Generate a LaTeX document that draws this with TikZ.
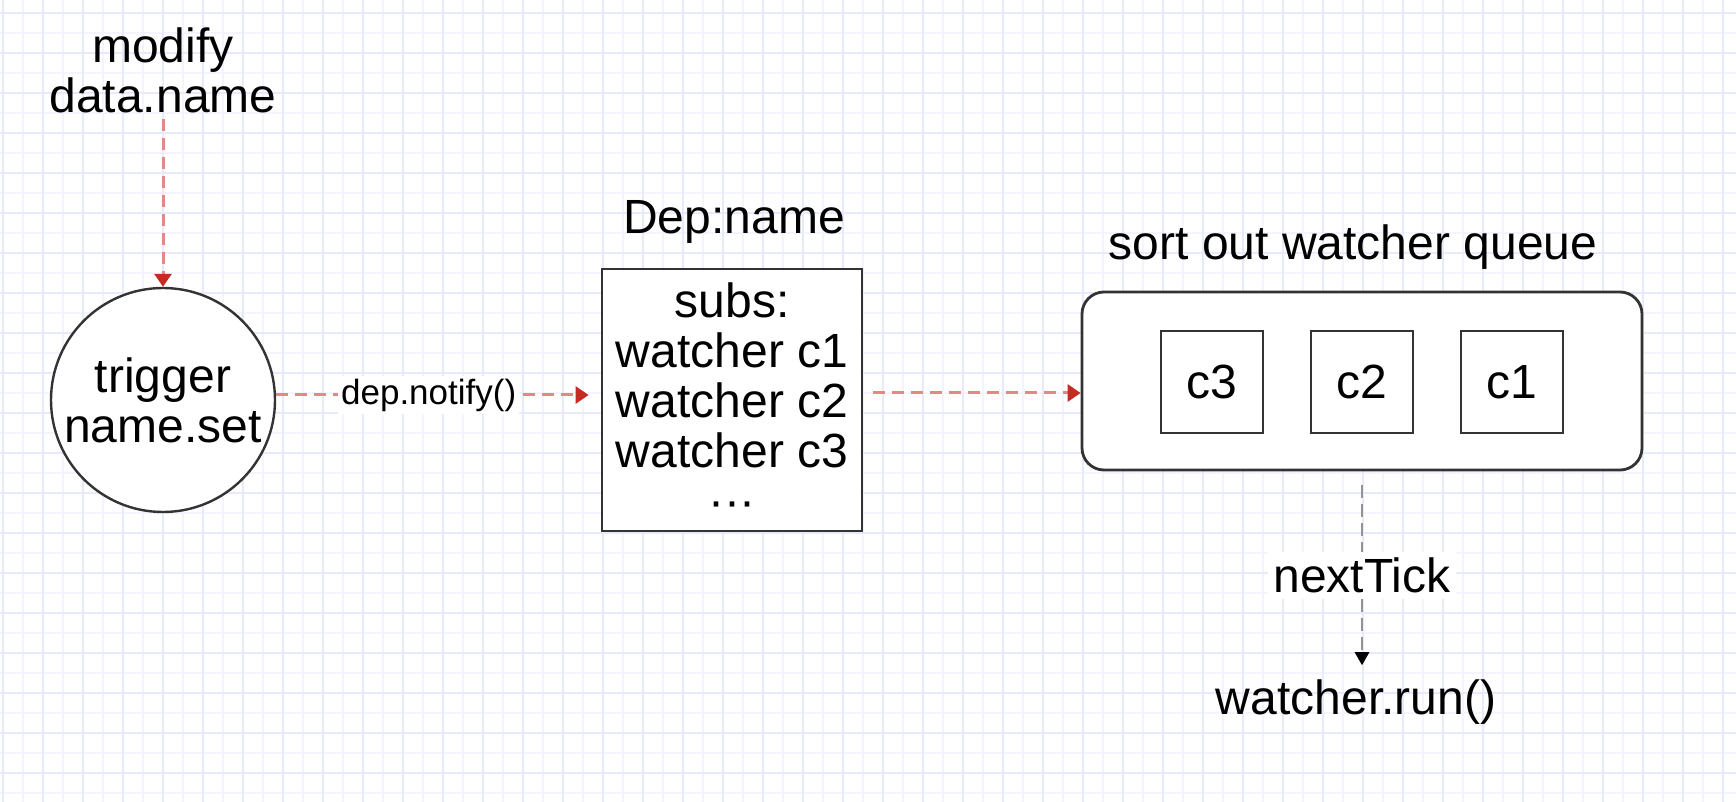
\documentclass[tikz,border=0pt]{standalone}
\usepackage{fontspec}
\setmainfont{Liberation Sans}
\usepackage{tikz}
\usetikzlibrary{positioning,arrows.meta}
\usepackage{xcolor}

\definecolor{gridstrong}{HTML}{E8EAFC}
\definecolor{gridfaint}{HTML}{F3F4FE}
\definecolor{flowred}{HTML}{C42B22}
\definecolor{flowpink}{HTML}{E08A86}
\definecolor{edgegray}{HTML}{333333}

\tikzset{
  lbl/.style={font=\fontsize{24}{25}\selectfont, align=center, inner sep=0pt},
  smalllbl/.style={font=\fontsize{17.5}{20}\selectfont, fill=white, inner sep=1.5pt},
  shapebox/.style={draw=edgegray, line width=1.4pt, fill=white, lbl},
  redflow/.style={draw=flowpink, line width=1.5pt, dash pattern=on 6pt off 3.5pt,
    -{Triangle[length=6.5pt,width=8.5pt,color=flowred]}},
  grayflow/.style={draw=gray!85, line width=1.3pt, dash pattern=on 6.5pt off 3pt,
    -{Triangle[length=6.5pt,width=7pt,color=black]}}
}

\begin{document}
\begin{tikzpicture}[x=0.5pt,y=-0.5pt]
      % Background and grid
      \useasboundingbox (0,0) rectangle (1736,802);
      \fill[white] (0,0) rectangle (1736,802);
      \foreach \gx in {22.7,62.7,...,1736} \draw[gridfaint,line width=1pt] (\gx,0) -- (\gx,802);
      \foreach \gy in {33.3,73.3,...,802} \draw[gridfaint,line width=1pt] (0,\gy) -- (1736,\gy);
      \foreach \gx in {2.7,42.7,...,1736} \draw[gridstrong,line width=1pt] (\gx,0) -- (\gx,802);
      \foreach \gy in {13.3,53.3,...,802} \draw[gridstrong,line width=1pt] (0,\gy) -- (1736,\gy);
      % Trigger
      \node[lbl] (modify) at (163,70) {modify\\data.name};
      \node[shapebox,circle,minimum size=112pt,line width=1.2pt] (trigger) at (163,400) {trigger\\name.set};
      % Dep
      \node[lbl] (deptitle) at (734,222) {Dep:name};
      \node[shapebox,minimum width=130pt,minimum height=131pt] (dep) at (732,400)
        {subs:\\watcher c1\\watcher c2\\watcher c3\\\textperiodcentered\textperiodcentered\textperiodcentered};
      % Watcher queue
      \node[lbl] (queuetitle) at (1353,247) {sort out watcher queue};
      \node[shapebox,rounded corners=11pt,minimum width=280pt,minimum height=89pt] (queue) at (1362,381) {};
      \foreach \c/\x in {c3/1212,c2/1362,c1/1512} {
        \node[shapebox,minimum size=51pt] (\c) at (\x,382) {\c};
      }
      \node[lbl] (run) at (1356,702) {watcher.run()};
      % Flow
      \draw[redflow,shorten <=3pt] (modify) -- (trigger);
      \draw[redflow,shorten >=6pt] ([yshift=2.5pt]trigger.east) -- node[smalllbl,pos=0.47] {dep.notify()} ([yshift=2.5pt]dep.west);
      \draw[redflow,shorten <=5pt] ([yshift=3.5pt]dep.east) -- ([yshift=-6pt]queue.west);
      \draw[grayflow,shorten <=7pt,shorten >=7pt] (queue) -- node[lbl,fill=white,inner sep=3pt] {nextTick} (queue.south |- run.north);
    \end{tikzpicture}
\end{document}
